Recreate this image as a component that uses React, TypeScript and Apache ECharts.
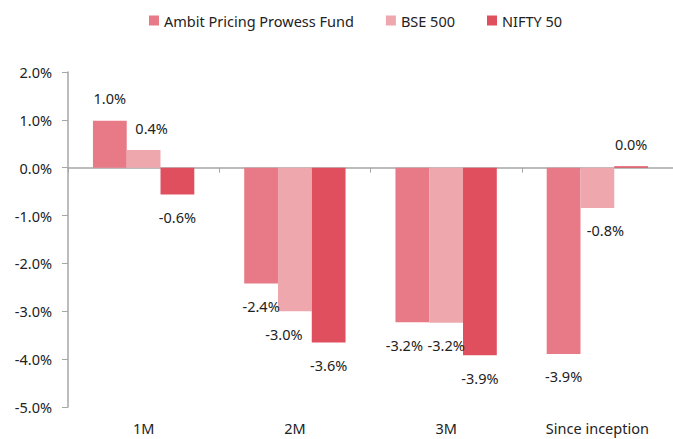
import React, { useEffect, useRef } from "react";
import * as echarts from "echarts";

const categories = ["1M", "2M", "3M", "Since inception"];
const seriesNames = ["Ambit Pricing Prowess Fund", "BSE 500", "NIFTY 50"];
const fundValues = [0.98, -2.42, -3.23, -3.89];
const bse500Values = [0.37, -3.0, -3.24, -0.84];
const nifty50Values = [-0.56, -3.65, -3.92, 0.03];
const labelTexts = [
  ["1.0%", "-2.4%", "-3.2%", "-3.9%"],
  ["0.4%", "-3.0%", "-3.2%", "-0.8%"],
  ["-0.6%", "-3.6%", "-3.9%", "0.0%"],
];
const labelNudges = [
  [0, 0, -8, 0],
  [8, -11, 0, 8],
  [0, 0, 0, 0],
];
const colors = ["#E87A87", "#EFA7AE", "#E04F5E"];
const FONT = "'Noto Sans', sans-serif";

export default function App() {
  const ref = useRef<HTMLDivElement>(null);
  useEffect(() => {
    document.body.style.margin = "0";
    const chart = echarts.init(ref.current!, null, { renderer: "svg" });
    const allValues = [fundValues, bse500Values, nifty50Values];
    chart.setOption({
      animation: false,
      textStyle: { fontFamily: FONT },
      legend: {
        top: 8,
        left: 144,
        itemWidth: 10,
        itemHeight: 10,
        itemGap: 32,
        icon: "rect",
        textStyle: { fontSize: 14.5, color: "#222", fontFamily: FONT },
        data: seriesNames,
      },
      grid: { left: 68, right: 0, top: 72, bottom: 32 },
      xAxis: [
        {
          type: "category",
          data: categories,
          axisLine: { onZero: true, lineStyle: { color: "#A6A6A6", width: 1.5 } },
          axisTick: { show: true, length: 5, lineStyle: { color: "#A6A6A6" } },
          axisLabel: { show: false },
        },
        {
          type: "category",
          data: categories,
          position: "bottom",
          axisLine: { show: false, onZero: false },
          axisTick: { show: false },
          axisLabel: { fontSize: 14.5, color: "#222", margin: 13, fontFamily: FONT },
        },
      ],
      yAxis: {
        type: "value",
        min: -5,
        max: 2,
        interval: 1,
        splitLine: { show: false },
        axisLine: { show: true, lineStyle: { color: "#A6A6A6", width: 1.5 } },
        axisTick: { show: true, length: 6, lineStyle: { color: "#A6A6A6" } },
        axisLabel: {
          fontSize: 14.5,
          color: "#222",
          margin: 16,
          fontFamily: FONT,
          formatter: (v: number) => v.toFixed(1) + "%",
        },
      },
      series: seriesNames.map((name, si) => ({
        name,
        type: "bar",
        barGap: "0%",
        barCategoryGap: "33%",
        itemStyle: { color: colors[si] },
        label: {
          show: true,
          position: "outside",
          distance: 15,
          fontSize: 14.5,
          color: "#222",
          fontFamily: FONT,
        },
        data: allValues[si].map((v, ci) => ({
          value: v,
          label: {
            formatter: labelTexts[si][ci],
            offset: [labelNudges[si][ci], 0],
          },
        })),
      })),
    });
    return () => chart.dispose();
  }, []);
  return <div ref={ref} style={{ width: 673, height: 439 }} />;
}
